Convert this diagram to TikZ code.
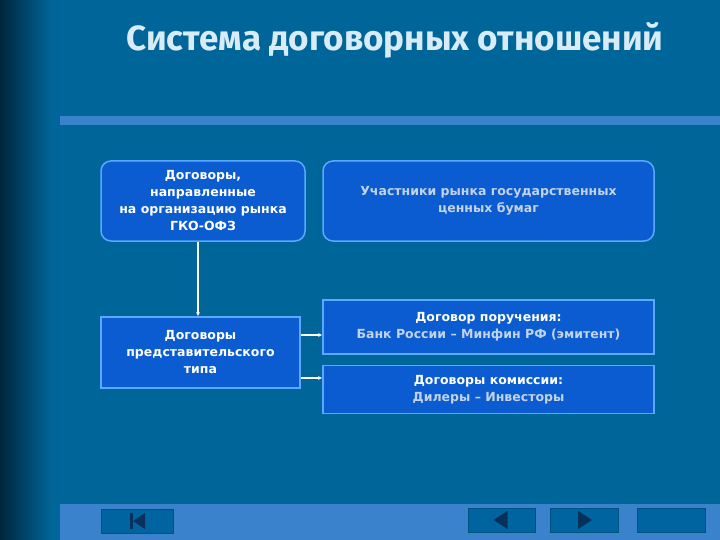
\documentclass[tikz,border=0pt]{standalone}
\usepackage{fontspec}
\setmainfont{DejaVu Sans}
\newfontfamily\titlefont{Fira Sans}
\usetikzlibrary{arrows.meta,calc}
\definecolor{bgc}{RGB}{0,102,153}
\definecolor{darkedge}{RGB}{0,38,60}
\definecolor{barc}{RGB}{59,130,204}
\definecolor{boxfill}{RGB}{10,92,208}
\definecolor{boxline}{RGB}{90,168,255}
\definecolor{titlec}{RGB}{216,236,248}
\definecolor{softtext}{RGB}{196,210,232}
\definecolor{btnc}{RGB}{0,100,160}
\definecolor{iconc}{RGB}{8,48,90}
\tikzset{
  roundbox/.style={draw=boxline, line width=1.5pt, fill=boxfill, rounded corners=10pt, align=center, inner sep=0pt},
  sqbox/.style={draw=boxline, line width=1.2pt, fill=boxfill, align=center, inner sep=0pt},
  boxtext/.style={font=\fontsize{12.5}{17}\selectfont\bfseries, text=white, align=center},
  conn/.style={draw=white, line width=1.3pt, -{Latex[length=4pt,width=4pt]}},
  btn/.style={fill=btnc, draw=btnc!80!black, line width=0.5pt},
}
\begin{document}
\begin{tikzpicture}[x=1pt,y=-1pt]
\useasboundingbox (0,0) rectangle (720,540);
\fill[bgc] (0,0) rectangle (720,540);
\shade[left color=darkedge, right color=bgc] (0,0) rectangle (52,540);
\fill[barc] (60,116) rectangle (720,125);
\fill[barc] (60,504) rectangle (720,540);
\node[font=\titlefont\fontsize{35}{38}\selectfont\bfseries, text=titlec] (title) at (395,40) {Система договорных отношений};

\node[roundbox, minimum width=204pt, minimum height=80pt] (a) at (203,201) {};
\node[boxtext] at (a.center) {Договоры,\\направленные\\на организацию рынка\\ГКО-ОФЗ};
\node[roundbox, minimum width=331pt, minimum height=80pt] (b) at (488.5,201) {};
\node[boxtext, text=softtext] at (b.center) {Участники рынка государственных\\ценных бумаг};
\node[sqbox, minimum width=199pt, minimum height=71pt] (c) at (200.5,352.5) {};
\node[boxtext] at (c.center) {Договоры\\представительского\\типа};
\node[sqbox, minimum width=331pt, minimum height=54pt] (d) at (488.5,327) {};
\node[boxtext] at (d.center) {Договор поручения:\\\textcolor{softtext}{Банк России – Минфин РФ (эмитент)}};
\node[sqbox, minimum width=331pt, minimum height=48pt] (e) at (488.5,389.5) {};
\node[boxtext] at (e.center) {Договоры комиссии:\\\textcolor{softtext}{Дилеры – Инвесторы}};

\draw[conn] (a.south -| 198,0) -- (c.north -| 198,0);
\coordinate (c1) at (c.east |- 0,335);
\coordinate (c2) at (c.east |- 0,378);
\draw[conn] (c1) -- (d.west |- c1);
\draw[conn] (c2) -- (e.west |- c2);

\node[btn, minimum width=72pt, minimum height=24pt, inner sep=0pt] (b1) at (137,521) {};
\fill[iconc] ($(b1.center)+(-7,-8)$) rectangle ($(b1.center)+(-4,8)$);
\fill[iconc] ($(b1.center)+(-4,0)$) -- ($(b1.center)+(8,-8)$) -- ($(b1.center)+(8,8)$) -- cycle;
\node[btn, minimum width=67pt, minimum height=24pt, inner sep=0pt] (b2) at (501.5,520) {};
\fill[iconc] ($(b2.center)+(-8,0)$) -- ($(b2.center)+(6,-9)$) -- ($(b2.center)+(6,9)$) -- cycle;
\node[btn, minimum width=68pt, minimum height=24pt, inner sep=0pt] (b3) at (584,520) {};
\fill[iconc] ($(b3.center)+(8,0)$) -- ($(b3.center)+(-6,-9)$) -- ($(b3.center)+(-6,9)$) -- cycle;
\node[btn, minimum width=68pt, minimum height=24pt, inner sep=0pt] (b4) at (671,520) {};
\end{tikzpicture}
\end{document}
